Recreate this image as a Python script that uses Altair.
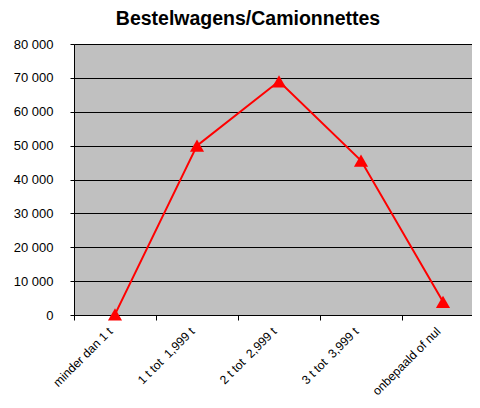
import altair as alt
import pandas as pd

categories = ["minder dan 1 t", "1 t tot \u00a01,999 t", "2 t tot \u00a02,999 t", "3 t tot \u00a03,999 t", "onbepaald of nul"]
values = [200, 50000, 69000, 45600, 3900]
y_ticks = [0, 10000, 20000, 30000, 40000, 50000, 60000, 70000, 80000]

df = pd.DataFrame({"cat": categories, "val": values})

font = "Liberation Sans"

base = alt.Chart(df).encode(
    x=alt.X(
        "cat:N",
        sort=categories,
        bandPosition=0.5,
        scale=alt.Scale(type="band", paddingInner=0, paddingOuter=0, range=[0, 410]),
        axis=alt.Axis(
            title=None,
            labelAngle=-45,
            labelAlign="right",
            labelBaseline="middle",
            labelFont=font,
            labelFontSize=12.2,
            labelColor="#000000",
            labelPadding=9,
            labelOffset=-5,
            tickBand="extent",
            tickSize=5,
            tickColor="#000000",
            domainColor="#000000",
            grid=False,
        ),
    ),
    y=alt.Y(
        "val:Q",
        scale=alt.Scale(domain=[0, 80000], nice=False),
        axis=alt.Axis(
            title=None,
            values=y_ticks,
            labelExpr="replace(format(datum.value, ','), ',', ' ')",
            labelFont=font,
            labelFontSize=13,
            labelColor="#000000",
            labelPadding=17,
            tickSize=4,
            tickColor="#000000",
            domainColor="#000000",
            grid=True,
            gridColor="#000000",
            gridOpacity=1,
            gridWidth=1,
        ),
    ),
)

line = base.mark_line(color="#FF0000", strokeWidth=2)
pts = base.mark_point(shape="triangle-up", filled=True, color="#FF0000", size=200, opacity=1)

chart = (
    (line + pts)
    .properties(
        width=398,
        height=271,
        autosize=alt.AutoSizeParams(type="none"),
        padding={"left": 66, "top": 36, "right": 0, "bottom": 85},
        view=alt.ViewBackground(fill="#C0C0C0", stroke="#808080", strokeWidth=1),
        title=alt.TitleParams(
            "Bestelwagens/Camionnettes",
            font=font,
            fontSize=19.5,
            fontWeight="bold",
            color="#000000",
            anchor="middle",
            frame="group",
            dx=-25,
            offset=9,
        ),
    )
    .configure(background="#FFFFFF")
)

chart.save("out.html", embed_options={"renderer": "svg", "actions": False})
